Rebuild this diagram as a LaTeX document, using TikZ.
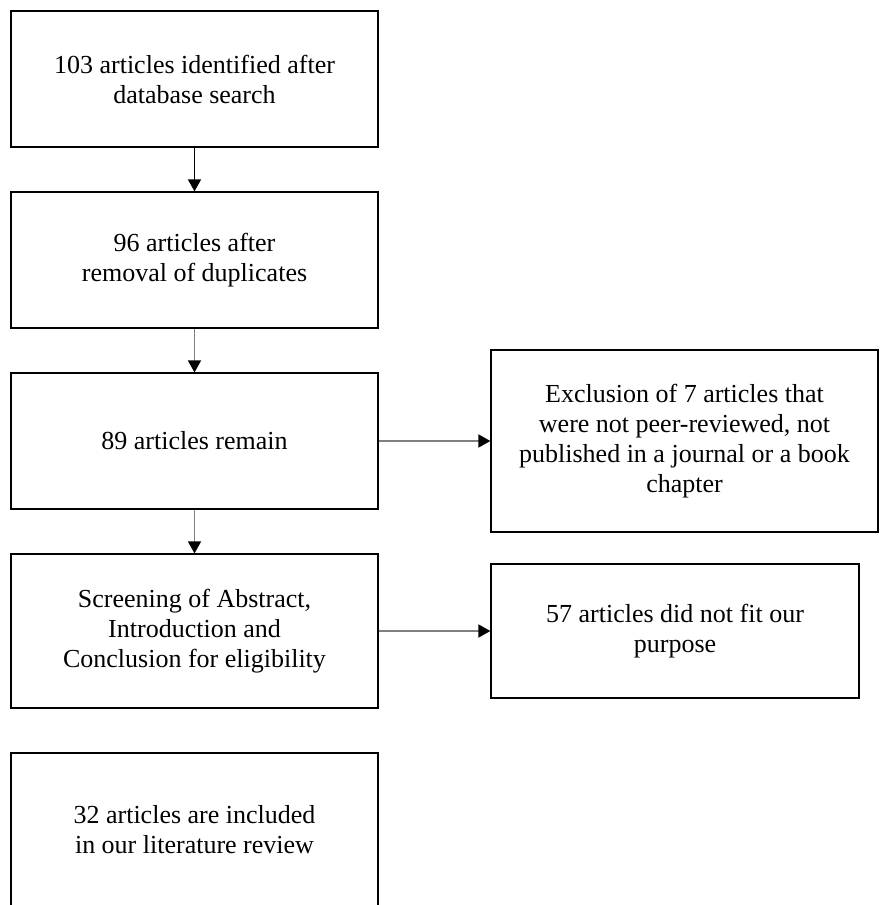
\documentclass[tikz,border=0pt]{standalone}
\usepackage{fontspec}
\setmainfont{Liberation Serif}
\usepackage{tikz}
\usetikzlibrary{arrows.meta}
\definecolor{shaft}{RGB}{128, 128, 128}

\begin{document}
\begin{tikzpicture}[
  box/.style={rectangle, draw=black, line width=0.6pt, align=center, inner sep=0pt, font=\fontsize{13pt}{15pt}\selectfont},
  mainbox/.style={box, minimum width=183.5pt, minimum height=68pt},
  tallbox/.style={box, minimum width=183.5pt, minimum height=77pt},
  flow/.style={line width=0.8pt, -{Triangle[length=6pt, width=6.5pt, color=black, fill=black]}}
]
\useasboundingbox (0pt, 0pt) rectangle (440pt, -452.5pt);
\node (found) [mainbox] at (97.25pt, -39.5pt) {103 articles identified after\\database search};
\node (nodup) [mainbox] at (97.25pt, -130.0pt) {96 articles after\\removal of duplicates};
\node (remain) [mainbox] at (97.25pt, -220.5pt) {89 articles remain};
\node (screen) [tallbox] at (97.25pt, -315.5pt) {Screening of Abstract,\\Introduction and\\Conclusion for eligibility};
\node (incl) [tallbox] at (97.25pt, -415.0pt) {32 articles are included\\in our literature review};
\node (excl) [box, minimum width=193.5pt, minimum height=91pt] at (342.25pt, -220.5pt) {Exclusion of 7 articles that\\were not peer-reviewed, not\\published in a journal or a book\\chapter};
\node (nofit) [box, minimum width=184pt, minimum height=67pt] at (337.5pt, -315.5pt) {57 articles did not fit our\\purpose};
\draw [flow, color=black] (found) to (nodup);
\draw [flow, color=shaft] (nodup) to (remain);
\draw [flow, color=shaft] (remain) to (screen);
\draw [flow, color=shaft] (remain) to (excl);
\draw [flow, color=shaft] (screen) to (nofit);
\end{tikzpicture}
\end{document}
